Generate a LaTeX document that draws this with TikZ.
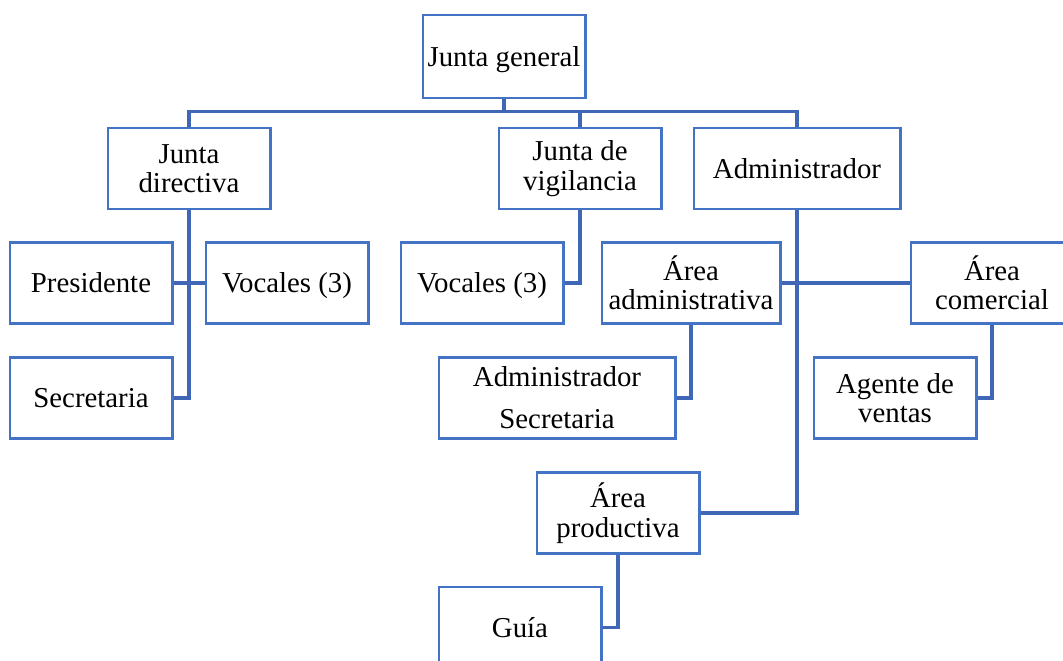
\documentclass[tikz,border=0pt]{standalone}
\usepackage{fontspec}
\setmainfont{Liberation Serif}
\usepackage{tikz}
\usetikzlibrary{positioning, calc}
\definecolor{orgBlue}{HTML}{4472C4}
\definecolor{orgLine}{HTML}{3F67B5}

\begin{document}
\begin{tikzpicture}[x=0.025cm, y=-0.025cm,
    every node/.style={font=\fontsize{20.5}{21}\selectfont},
    unitbox/.style={
        rectangle, draw=orgBlue, line width=2.1pt, fill=white,
        minimum width=#1, minimum height=2.025cm,
        inner sep=0pt, align=center,
    },
    unitbox/.default=4.05cm,
    oneline/.style={text height=14pt, text depth=0pt},
    link/.style={draw=orgLine, line width=2.2pt},
]

\useasboundingbox (0,0) rectangle (1063,661);
\clip (0,0) rectangle (1063,661);

% ── Level 0 ───────────────────────────────────────────────────────────
\node[unitbox, oneline, minimum height=2.075cm] (jg) at (504, 56.5) {Junta general};

% ── Level 1 ───────────────────────────────────────────────────────────
\node[unitbox] (jd)  at (189, 168.5) {Junta\\directiva};
\node[unitbox] (jv)  at (580, 168.5) {Junta de\\vigilancia};
\node[unitbox=5.15cm, oneline] (adm) at (797, 168.5) {Administrador};

% ── Level 2 ───────────────────────────────────────────────────────────
\node[unitbox, oneline] (pres)  at (91, 283)  {Presidente};
\node[unitbox, oneline] (voc1)  at (287, 283) {Vocales (3)};
\node[unitbox, oneline] (voc2)  at (482, 283) {Vocales (3)};
\node[unitbox=4.45cm] (aadm) at (691, 283) {Área\\administrativa};
\node[unitbox] (acom)  at (992, 283) {Área\\comercial};

% ── Level 3 ───────────────────────────────────────────────────────────
\node[unitbox, oneline] (sec) at (91, 398) {Secretaria};
\node[unitbox=5.9cm, font=\fontsize{20.5}{30}\selectfont] (admsec) at (557, 398) {Administrador\\Secretaria};
\node[unitbox] (agente) at (895, 398) {Agente de\\ventas};

% ── Level 4 ───────────────────────────────────────────────────────────
\node[unitbox] (aprod) at (618, 513) {Área\\productiva};
\node[unitbox, oneline] (guia) at (520, 627.5) {Guía};

% ── Connectors ────────────────────────────────────────────────────────
\coordinate (bus) at (504, 111.5);
\draw[link] (jg.south) -- (bus);
\draw[link] (jd.north) |- (bus) -| (adm.north);
\draw[link] (bus -| jv.north) -- (jv.north);

\draw[link] (jd.south) |- (sec.east);
\draw[link] (pres.east) -- (voc1.west);
\draw[link] (jv.south) |- (voc2.east);

\draw[link] (adm.south) |- (aprod.east);
\draw[link] (aadm.east) -- (acom.west);
\draw[link] (aadm.south) |- (admsec.east);
\draw[link] (acom.south) |- (agente.east);
\draw[link] (aprod.south) |- (guia.east);

\end{tikzpicture}
\end{document}
